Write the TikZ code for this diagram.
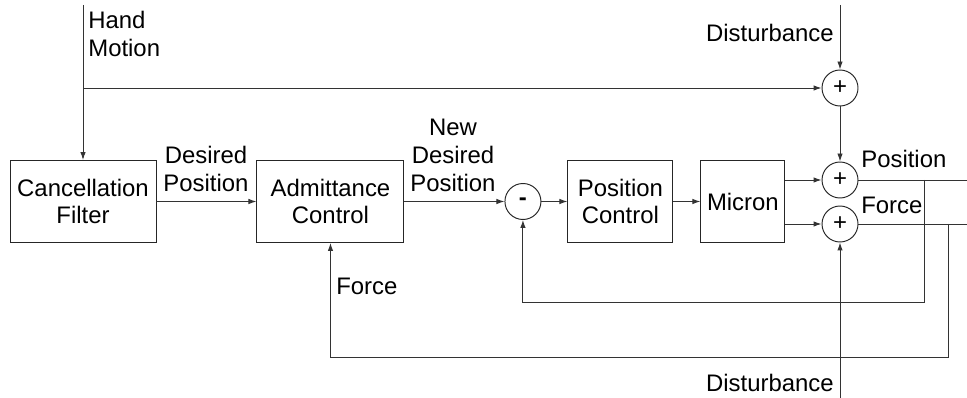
\documentclass[tikz,border=0pt]{standalone}
\usepackage{fontspec}
\setmainfont{Liberation Sans}
\usepackage{tikz}
\usetikzlibrary{arrows.meta,positioning}

\begin{document}
\begin{tikzpicture}[
  x=0.2mm,y=-0.2mm,
  font=\fontsize{13.6}{15.8}\selectfont,
  line width=0.55pt,
  block/.style={draw=black!85,rectangle,align=center,minimum height=16.4mm,inner sep=1mm},
  sumnode/.style={draw=black!85,circle,minimum size=7.2mm,inner sep=0pt},
  sig/.style={draw=black!80,-{Latex[length=1.6mm,width=1.1mm]}},
  wire/.style={draw=black!80}
]
  \useasboundingbox (0,0) rectangle (967,398);
  \node[block,minimum width=29.2mm] (filter) at (83,201.5) {Cancellation\\Filter};
  \node[block,minimum width=29.4mm,right=20mm of filter] (admit) {Admittance\\Control};
  \node[sumnode,right=20mm of admit] (diff) {\textbf{-}};
  \node[block,minimum width=21mm,right=5.2mm of diff] (posctrl) {Position\\Control};
  \node[block,minimum width=16.8mm,right=5.4mm of posctrl] (micron) {Micron};
  \node[sumnode] (sumtop) at (840,88) {+};
  \node[sumnode] (sumpos) at (840,180) {+};
  \node[sumnode] (sumfrc) at (840,224) {+};

  \coordinate (hand) at (83,5);
  \coordinate (handsplit) at (83,88);
  \coordinate (disttop) at (840,5);
  \coordinate (distbot) at (840,398);
  \coordinate (posout) at (967,180);
  \coordinate (frcout) at (967,224);
  \coordinate (postap) at (924,180);
  \coordinate (frctap) at (948,224);

  \draw[sig] (hand) -- (filter);
  \draw[sig] (handsplit) -- (sumtop);
  \draw[sig] (disttop) -- (sumtop);
  \draw[sig] (sumtop) -- (sumpos);
  \draw[sig] (distbot) -- (sumfrc);
  \draw[sig] (filter) -- (admit);
  \draw[sig] (admit) -- (diff);
  \draw[sig] (diff) -- (posctrl);
  \draw[sig] (posctrl) -- (micron);
  \draw[sig] (micron.east |- sumpos) -- (sumpos);
  \draw[sig] (micron.east |- sumfrc) -- (sumfrc);
  \draw[wire] (sumpos) -- (posout);
  \draw[wire] (sumfrc) -- (frcout);
  \draw[sig] (postap) -- ++(0,122) -| (diff);
  \draw[sig] (frctap) -- ++(0,133) -| (admit);

  \node[anchor=north west,align=left] (handlbl) at (82,5) {Hand\\Motion};
  \node[anchor=east] (distlbl) at (840,33) {Disturbance};
  \node[anchor=east] (distlbl2) at (840,383) {Disturbance};
  \node[anchor=south,align=center] (desired) at (206,198) {Desired\\Position};
  \node[anchor=south,align=center] (newdesired) at (453,198) {New\\Desired\\Position};
  \node[anchor=west] (poslbl) at (855,159) {Position};
  \node[anchor=west] (frclbl) at (855,205) {Force};
  \node[anchor=west] (frclbl2) at (330,286) {Force};
\end{tikzpicture}
\end{document}
